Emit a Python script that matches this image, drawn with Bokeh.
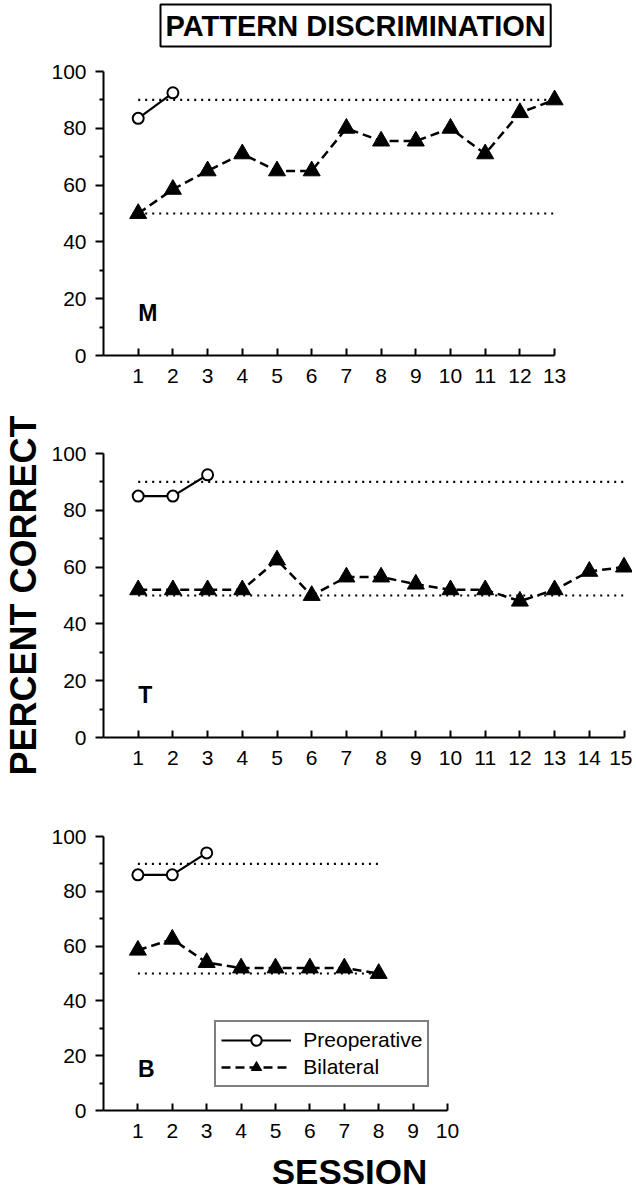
from bokeh.plotting import figure
from bokeh.models import FixedTicker, Legend, LegendItem, Range1d, Title
from bokeh.layouts import column
from bokeh.embed import file_html
from bokeh.resources import INLINE
from bokeh.core.properties import value

# ---------------- data ----------------
m_pre_sessions = [1, 2]
m_pre = [83.5, 92.5]
m_bil_sessions = [1, 2, 3, 4, 5, 6, 7, 8, 9, 10, 11, 12, 13]
m_bil = [50, 58.5, 65, 71, 65, 65, 80, 75.5, 75.5, 80, 71, 85.5, 90]
m_ticks = [1, 2, 3, 4, 5, 6, 7, 8, 9, 10, 11, 12, 13]

t_pre_sessions = [1, 2, 3]
t_pre = [85, 85, 92.5]
t_bil_sessions = [1, 2, 3, 4, 5, 6, 7, 8, 9, 10, 11, 12, 13, 14, 15]
t_bil = [52, 52, 52, 52, 62.5, 50, 56.5, 56.5, 54, 52, 52, 48, 52, 58.5, 60]
t_ticks = [1, 2, 3, 4, 5, 6, 7, 8, 9, 10, 11, 12, 13, 14, 15]

b_pre_sessions = [1, 2, 3]
b_pre = [86, 86, 94]
b_bil_sessions = [1, 2, 3, 4, 5, 6, 7, 8]
b_bil = [58.5, 62.5, 54, 52, 52, 52, 52, 50]
b_ticks = [1, 2, 3, 4, 5, 6, 7, 8, 9, 10]

y_ticks = [0, 20, 40, 60, 80, 100]
y_minor_ticks = [10, 30, 50, 70, 90]
criterion = 90
chance = 50

FONT = "Liberation Sans"

# ---------------- title strip ----------------
ptitle = figure(frame_width=600, frame_height=1, x_range=Range1d(0, 1), y_range=Range1d(0, 1),
                output_backend="svg", toolbar_location=None,
                x_axis_location=None, y_axis_location=None,
                min_border_left=0, min_border_right=0, min_border_top=0, min_border_bottom=3)
ptitle.outline_line_color = None
ptitle.grid.visible = False
ptitle.add_layout(Title(text="PATTERN DISCRIMINATION", align="left", offset=57,
                        vertical_align="top", standoff=8,
                        text_font=FONT, text_font_style="bold", text_font_size="29px",
                        text_color="black", border_line_color="black", border_line_width=2,
                        background_fill_color="white", padding=5), "above")


def make_panel(letter, pre_x, pre_y, bil_x, bil_y, ticks, spacing,
               frame_w, frame_h, border_left, border_top, border_bottom):
    p = figure(frame_width=frame_w, frame_height=frame_h,
               x_range=Range1d(0, frame_w / spacing), y_range=Range1d(0, 100),
               output_backend="svg", toolbar_location=None,
               min_border_left=border_left, min_border_right=0,
               min_border_top=border_top, min_border_bottom=border_bottom)
    p.outline_line_color = None
    p.grid.visible = False
    p.background_fill_color = "white"

    xa = p.xaxis[0]
    xa.ticker = FixedTicker(ticks=ticks)
    xa.bounds = (0, ticks[-1])
    xa.major_tick_in = 7
    xa.major_tick_out = 0
    xa.minor_tick_line_color = None
    xa.axis_line_width = 2
    xa.major_tick_line_width = 2
    xa.axis_line_color = "black"
    xa.major_tick_line_color = "black"
    xa.major_label_text_font = FONT
    xa.major_label_text_font_size = "21px"
    xa.major_label_text_color = "black"
    xa.major_label_standoff = 13

    ya = p.yaxis[0]
    ya.ticker = FixedTicker(ticks=y_ticks, minor_ticks=y_minor_ticks)
    ya.major_tick_out = 8
    ya.major_tick_in = 0
    ya.minor_tick_out = 4
    ya.minor_tick_in = 0
    ya.axis_line_width = 2
    ya.major_tick_line_width = 2
    ya.minor_tick_line_width = 2
    ya.axis_line_color = "black"
    ya.major_tick_line_color = "black"
    ya.minor_tick_line_color = "black"
    ya.major_label_text_font = FONT
    ya.major_label_text_font_size = "21px"
    ya.major_label_text_color = "black"
    ya.major_label_standoff = 9

    # criterion (90%) and chance (50%) reference lines
    x_ref = [bil_x[0], bil_x[-1]]
    p.line(x_ref, [criterion, criterion], line_color="black", line_width=2.2, line_dash="2 5")
    p.line(x_ref, [chance, chance], line_color="black", line_width=2.2, line_dash="2 5")

    pre_line = p.line(pre_x, pre_y, line_color="black", line_width=2.2)
    bil_line = p.line(bil_x, bil_y, line_color="black", line_width=2.5, line_dash="9 5")
    bil_pts = p.scatter(bil_x, bil_y, marker="triangle", size=17,
                        fill_color="black", line_color="black", line_width=1)
    pre_pts = p.scatter(pre_x, pre_y, marker="circle", size=11,
                        fill_color="white", line_color="black", line_width=2)

    p.text(x=[1], y=[15], text=[letter], text_font=value(FONT), text_font_style="bold",
           text_font_size="23px", text_baseline="middle", text_align="left", text_color="black")
    return p, (pre_line, pre_pts), (bil_line, bil_pts)


pm, _, _ = make_panel("M", m_pre_sessions, m_pre, m_bil_sessions, m_bil, m_ticks, 34.7,
                      468, 284, 99, 15, 48)

pt, _, _ = make_panel("T", t_pre_sessions, t_pre, t_bil_sessions, t_bil, t_ticks, 34.7,
                      529, 284, 99, 50, 50)
pt.yaxis[0].axis_label = "PERCENT CORRECT"
pt.yaxis[0].axis_label_text_font = FONT
pt.yaxis[0].axis_label_text_font_style = "bold"
pt.yaxis[0].axis_label_text_font_size = "36px"
pt.yaxis[0].axis_label_text_color = "black"
pt.yaxis[0].axis_label_standoff = 4

pb, pre_r, bil_r = make_panel("B", b_pre_sessions, b_pre, b_bil_sessions, b_bil, b_ticks, 34.4,
                              492, 274, 101, 49, 89)
pb.xaxis[0].axis_label = "SESSION"
pb.xaxis[0].axis_label_text_font = FONT
pb.xaxis[0].axis_label_text_font_style = "bold"
pb.xaxis[0].axis_label_text_font_size = "35px"
pb.xaxis[0].axis_label_text_color = "black"
pb.xaxis[0].axis_label_standoff = 11

legend = Legend(items=[LegendItem(label="Preoperative", renderers=list(pre_r)),
                       LegendItem(label="Bilateral", renderers=list(bil_r))],
                location=(144, 23), orientation="vertical",
                glyph_width=70, glyph_height=26, label_standoff=12,
                padding=5, spacing=1, margin=0,
                border_line_color="black", border_line_width=2,
                background_fill_color="white", background_fill_alpha=1,
                label_text_font=FONT, label_text_font_size="21px", label_text_color="black")
pb.add_layout(legend)

layout = column(ptitle, pm, pt, pb, spacing=0)
open("out.html", "w").write(file_html(layout, INLINE))
